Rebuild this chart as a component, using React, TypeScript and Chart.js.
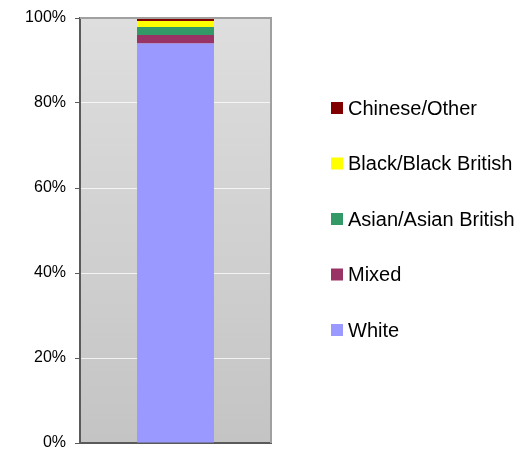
import React, { useEffect, useRef } from "react";
import { Chart, registerables } from "chart.js";

Chart.register(...registerables);

const categories = [""];
const seriesNames = ["White", "Mixed", "Asian/Asian British", "Black/Black British", "Chinese/Other"];
const whiteValues = [94.0];
const mixedValues = [2.0];
const asianValues = [1.9];
const blackValues = [1.4];
const chineseValues = [0.7];
const seriesColors = ["#9999FF", "#993366", "#339966", "#FFFF00", "#800000"];
const yTicks = [0, 20, 40, 60, 80, 100];

const FONT = "'Liberation Sans', Arial, sans-serif";

export default function App() {
  const ref = useRef<HTMLCanvasElement | null>(null);

  useEffect(() => {
    document.body.style.margin = "0";
    const canvas = ref.current;
    if (!canvas) return;
    const values = [whiteValues, mixedValues, asianValues, blackValues, chineseValues];

    const bgPlugin = {
      id: "plotBg",
      beforeDraw(chart: any) {
        const { ctx, chartArea } = chart;
        const g = ctx.createLinearGradient(0, chartArea.top, 0, chartArea.bottom);
        g.addColorStop(0, "#dedede");
        g.addColorStop(1, "#c4c4c4");
        ctx.save();
        ctx.fillStyle = g;
        ctx.fillRect(chartArea.left, chartArea.top, chartArea.right - chartArea.left, chartArea.bottom - chartArea.top);
        ctx.restore();
      },
      afterDatasetsDraw(chart: any) {
        const { ctx, chartArea } = chart;
        ctx.save();
        ctx.strokeStyle = "#a0a0a0";
        ctx.lineWidth = 2;
        ctx.beginPath();
        ctx.moveTo(chartArea.left, chartArea.top);
        ctx.lineTo(chartArea.right, chartArea.top);
        ctx.lineTo(chartArea.right, chartArea.bottom);
        ctx.stroke();
        ctx.restore();
      },
      afterDraw(chart: any) {
        const { ctx } = chart;
        const ds = chart.data.datasets;
        ctx.save();
        ctx.font = "20px " + FONT;
        ctx.textBaseline = "middle";
        ctx.textAlign = "left";
        const n = ds.length;
        for (let i = 0; i < n; i++) {
          const d = ds[n - 1 - i];
          const cy = 108 + i * 55.5;
          ctx.fillStyle = d.backgroundColor;
          ctx.fillRect(331, cy - 6, 12, 12);
          ctx.fillStyle = "#000";
          ctx.fillText(d.label, 348, cy + 1);
        }
        ctx.restore();
      },
    };

    const chart = new Chart(canvas, {
      type: "bar",
      data: {
        labels: categories,
        datasets: seriesNames.map((name, i) => ({
          label: name,
          data: values[i],
          backgroundColor: seriesColors[i],
          borderWidth: 0,
          categoryPercentage: 1,
          barPercentage: 0.403,
        })),
      },
      options: {
        animation: false,
        responsive: true,
        maintainAspectRatio: false,
        layout: { padding: { top: 18, bottom: 6, left: 0, right: 245 } },
        plugins: { legend: { display: false }, tooltip: { enabled: false } },
        scales: {
          x: {
            stacked: true,
            grid: { display: false },
            ticks: { display: false },
            border: { display: true, color: "#5a5a5a", width: 2 },
            afterFit(s: any) {
              s.height = 0;
              s.paddingLeft = 0;
              s.paddingRight = 0;
            },
          },
          y: {
            stacked: true,
            min: 0,
            max: 100,
            afterBuildTicks(s: any) {
              s.ticks = yTicks.map((v) => ({ value: v }));
            },
            ticks: {
              callback: (v: any) => v + "%",
              color: "#000",
              font: { family: FONT, size: 16 },
              padding: 9,
            },
            grid: {
              color: "rgba(255,255,255,0.75)",
              lineWidth: 1,
              tickColor: "#5a5a5a",
              tickLength: 5,
              drawTicks: true,
            },
            border: { display: true, color: "#5a5a5a", width: 2 },
            afterFit(s: any) {
              s.width = 80;
              s.paddingTop = 0;
              s.paddingBottom = 0;
            },
          },
        },
      },
      plugins: [bgPlugin],
    });
    return () => chart.destroy();
  }, []);

  return (
    <div style={{ position: "fixed", left: 0, top: 0, width: 516, height: 449 }}>
      <canvas ref={ref} />
    </div>
  );
}
